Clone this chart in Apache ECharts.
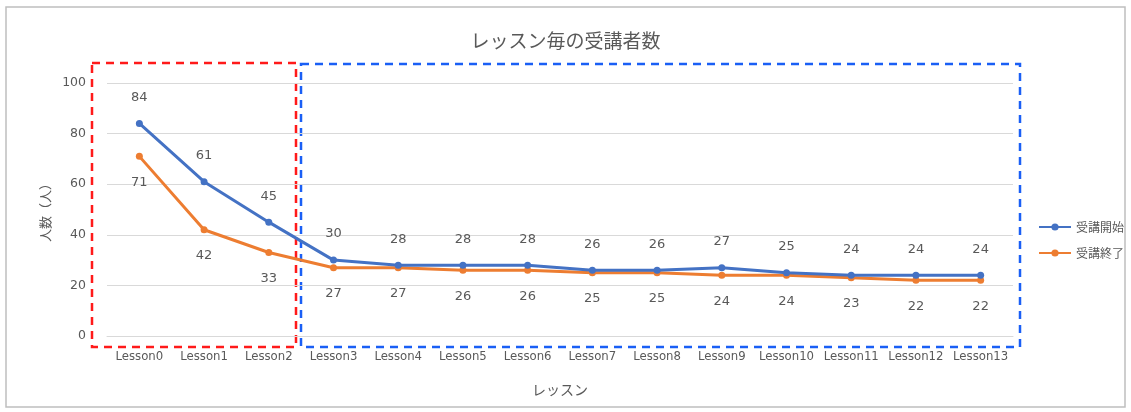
<!DOCTYPE html>
<html>
<head>
<meta charset="utf-8">
<script src="https://cdn.jsdelivr.net/npm/echarts@6/dist/echarts.min.js"></script>
<style>
  html, body { margin: 0; padding: 0; background: #fff; }
  #main { width: 1131px; height: 412px; }
</style>
</head>
<body>
<div id="main"></div>
<script>
var lessons = ['Lesson0', 'Lesson1', 'Lesson2', 'Lesson3', 'Lesson4', 'Lesson5', 'Lesson6',
  'Lesson7', 'Lesson8', 'Lesson9', 'Lesson10', 'Lesson11', 'Lesson12', 'Lesson13'];
var startData = [84, 61, 45, 30, 28, 28, 28, 26, 26, 27, 25, 24, 24, 24];
var endData = [71, 42, 33, 27, 27, 26, 26, 25, 25, 24, 24, 23, 22, 22];
var yTicks = [0, 20, 40, 60, 80, 100];

var chart = echarts.init(document.getElementById('main'));
var font = 'Noto Sans CJK JP';
var grey = '#595959';

var option = {
  animation: false,
  textStyle: { fontFamily: font },
  title: {
    text: 'レッスン毎の受講者数',
    left: 'center',
    top: 26,
    textStyle: { color: grey, fontSize: 19, fontWeight: 'normal', fontFamily: font }
  },
  legend: {
    orient: 'vertical',
    left: 1033,
    top: 216,
    itemGap: 14,
    itemWidth: 32,
    itemHeight: 9,
    textStyle: { color: grey, fontSize: 12, fontFamily: font },
    data: ['受講開始', '受講終了']
  },
  grid: { left: 107, right: 118, top: 83, bottom: 76 },
  xAxis: {
    type: 'category',
    data: lessons,
    boundaryGap: true,
    name: 'レッスン',
    nameLocation: 'middle',
    nameGap: 47,
    nameTextStyle: { color: grey, fontSize: 14, fontFamily: font },
    axisLine: { lineStyle: { color: '#d9d9d9' } },
    axisTick: { show: false },
    axisLabel: { color: grey, fontSize: 13, margin: 14, interval: 0, fontFamily: 'DejaVu Sans Condensed, DejaVu Sans' }
  },
  yAxis: {
    type: 'value',
    min: yTicks[0],
    max: yTicks[yTicks.length - 1],
    interval: 20,
    name: '人数（人）',
    nameLocation: 'middle',
    nameGap: 55,
    nameRotate: 90,
    nameTextStyle: { color: grey, fontSize: 13, fontFamily: font },
    axisLine: { show: false },
    axisTick: { show: false },
    axisLabel: { color: grey, fontSize: 12.5, margin: 21, fontFamily: 'DejaVu Sans' },
    splitLine: { lineStyle: { color: '#d9d9d9' } }
  },
  series: [
    {
      name: '受講開始',
      type: 'line',
      data: startData,
      symbol: 'circle',
      symbolSize: 7,
      lineStyle: { color: '#4472C4', width: 3 },
      itemStyle: { color: '#4472C4' },
      label: { show: true, position: 'top', distance: 16, color: grey, fontSize: 13, fontFamily: 'DejaVu Sans' },
      z: 3
    },
    {
      name: '受講終了',
      type: 'line',
      data: endData,
      symbol: 'circle',
      symbolSize: 7,
      lineStyle: { color: '#ED7D31', width: 3 },
      itemStyle: { color: '#ED7D31' },
      label: { show: true, position: 'bottom', distance: 16, color: grey, fontSize: 13, fontFamily: 'DejaVu Sans' },
      z: 2
    }
  ],
  graphic: [
    {
      type: 'rect',
      shape: { x: 6, y: 7, width: 1119, height: 400 },
      style: { fill: null, stroke: '#bfbfbf', lineWidth: 1.5 },
      silent: true
    },
    {
      type: 'rect',
      shape: { x: 92, y: 63, width: 204, height: 284 },
      style: { fill: null, stroke: '#ff1a1a', lineWidth: 2.5, lineDash: [8, 6] },
      silent: true
    },
    {
      type: 'rect',
      shape: { x: 301, y: 64, width: 719, height: 283 },
      style: { fill: null, stroke: '#1a5ff5', lineWidth: 2.5, lineDash: [8, 6] },
      silent: true
    }
  ]
};

chart.setOption(option);
</script>
</body>
</html>
